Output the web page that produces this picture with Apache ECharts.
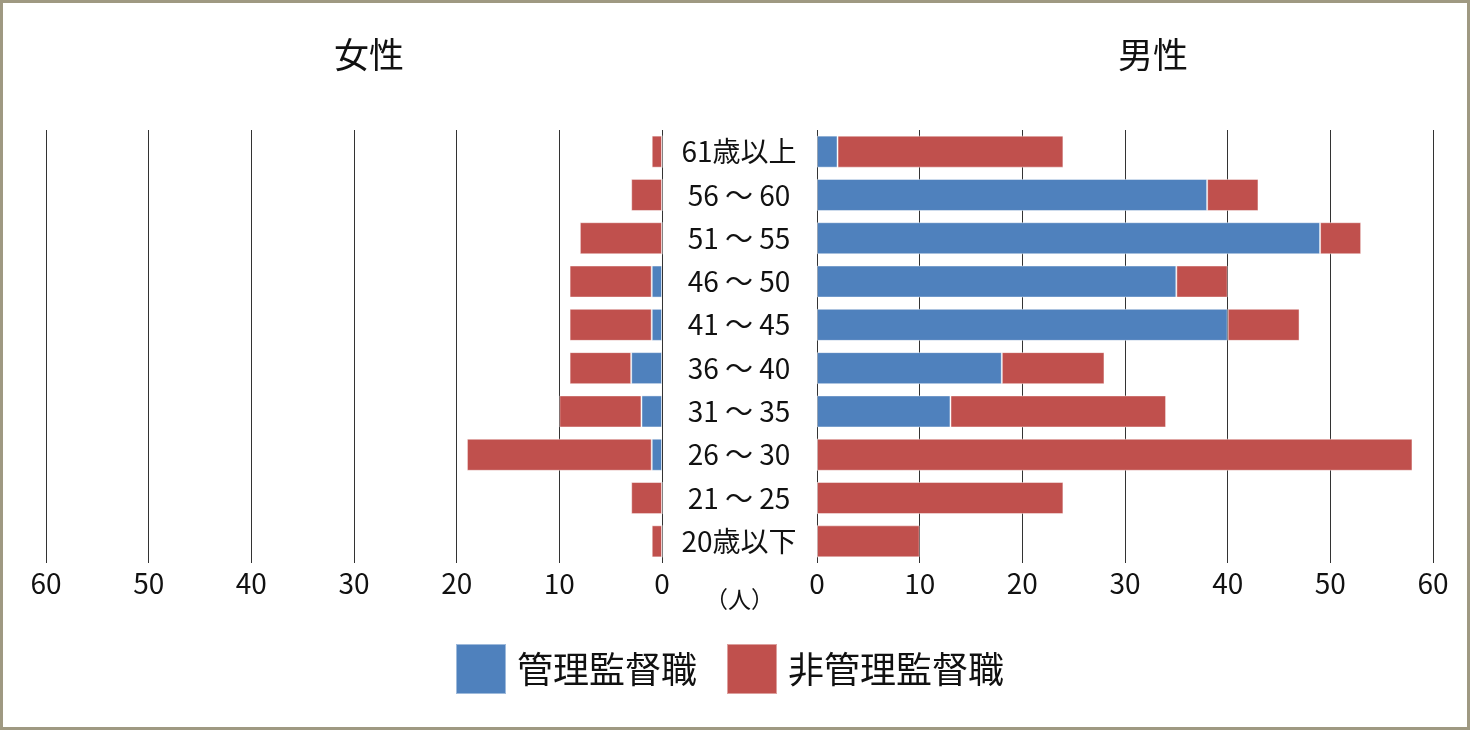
<!DOCTYPE html>
<html>
<head>
<meta charset="utf-8">
<script src="https://cdn.jsdelivr.net/npm/echarts@6/dist/echarts.min.js"></script>
<style>
  html, body { margin: 0; padding: 0; background: #fff; }
  #main { width: 1470px; height: 730px; }
</style>
</head>
<body>
<div id="main"></div>
<script>
// 年齢区分（上から下）
const categories = ['61歳以上', '56 〜 60', '51 〜 55', '46 〜 50', '41 〜 45', '36 〜 40', '31 〜 35', '26 〜 30', '21 〜 25', '20歳以下'];
const seriesNames = ['管理監督職', '非管理監督職'];
const axisTicks = [0, 10, 20, 30, 40, 50, 60];

// 女性
const femaleManager = [0, 0, 0, 1, 1, 3, 2, 1, 0, 0];
const femaleNonManager = [1, 3, 8, 8, 8, 6, 8, 18, 3, 1];
// 男性
const maleManager = [2, 38, 49, 35, 40, 18, 13, 0, 0, 0];
const maleNonManager = [22, 5, 4, 5, 7, 10, 21, 58, 24, 10];

const BLUE = '#4f81bd';
const RED = '#c0504d';
const FONT = '"Noto Sans CJK JP", "Noto Sans", sans-serif';

let myChart = echarts.init(document.getElementById('main'));

const xAxisCommon = {
  type: 'value',
  min: axisTicks[0],
  max: axisTicks[axisTicks.length - 1],
  interval: 10,
  axisLine: { show: false },
  axisTick: { show: false },
  axisLabel: { color: '#111', fontSize: 28, fontFamily: FONT, margin: 6 },
  splitLine: { show: true, lineStyle: { color: '#333', width: 1 } }
};

function barSeries(name, data, color, idx) {
  return {
    name: name,
    type: 'bar',
    stack: 'g' + idx,
    xAxisIndex: idx,
    yAxisIndex: idx,
    barCategoryGap: '26%',
    data: data,
    itemStyle: { color: color, borderColor: 'rgba(255,255,255,0.45)', borderWidth: 1 }
  };
}

let option = {
  animation: false,
  backgroundColor: '#fff',
  textStyle: { fontFamily: FONT },
  title: [
    { text: '女性', left: 364, top: 32, textAlign: 'center',
      textStyle: { fontSize: 35, fontWeight: 'normal', color: '#111', fontFamily: FONT } },
    { text: '男性', left: 1148, top: 32, textAlign: 'center',
      textStyle: { fontSize: 35, fontWeight: 'normal', color: '#111', fontFamily: FONT } }
  ],
  legend: {
    data: seriesNames,
    left: 455,
    top: 643,
    padding: 0,
    itemWidth: 50,
    itemHeight: 50,
    itemGap: 29,
    icon: 'rect',
    textStyle: { fontSize: 36, color: '#111', fontFamily: FONT, padding: [0, 0, 0, 6] }
  },
  grid: [
    { left: 46, right: 808, top: 130, height: 433 },
    { left: 817, right: 37, top: 130, height: 433 }
  ],
  xAxis: [
    Object.assign({}, xAxisCommon, { gridIndex: 0, inverse: true }),
    Object.assign({}, xAxisCommon, { gridIndex: 1 })
  ],
  yAxis: [
    { type: 'category', gridIndex: 0, data: categories, inverse: true, position: 'right',
      axisLine: { show: false }, axisTick: { show: false }, axisLabel: { show: false } },
    { type: 'category', gridIndex: 1, data: categories, inverse: true, position: 'left',
      axisLine: { show: false }, axisTick: { show: false },
      axisLabel: { color: '#111', fontSize: 28, fontFamily: FONT, align: 'center', margin: 78 } }
  ],
  graphic: [
    { type: 'text', left: 705, top: 588,
      style: { text: '（人）', fontSize: 23, fill: '#111', fontFamily: FONT } },
    { type: 'rect', shape: { x: 1.5, y: 1.5, width: 1467, height: 727 }, silent: true,
      style: { fill: 'none', stroke: '#9f9982', lineWidth: 3 } }
  ],
  series: [
    barSeries(seriesNames[0], femaleManager, BLUE, 0),
    barSeries(seriesNames[1], femaleNonManager, RED, 0),
    barSeries(seriesNames[0], maleManager, BLUE, 1),
    barSeries(seriesNames[1], maleNonManager, RED, 1)
  ]
};

myChart.setOption(option);
</script>
</body>
</html>
